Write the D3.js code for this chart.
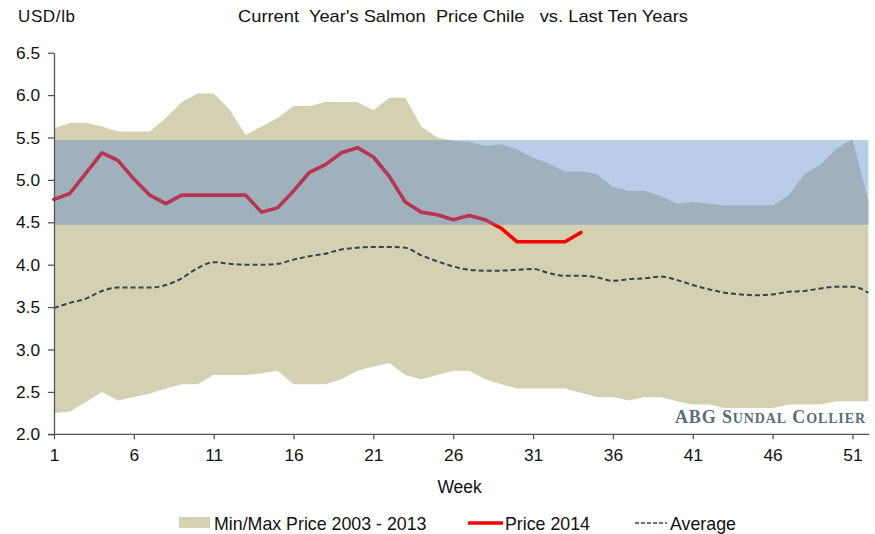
<!DOCTYPE html>
<html>
<head>
<meta charset="utf-8">
<script src="https://cdn.jsdelivr.net/npm/d3@7"></script>
<style>
    body { margin: 0; background: #fff; }
    svg { font-family: "Liberation Sans", Arial, sans-serif; }
    .axis path, .axis line { stroke: #555; stroke-width: 1.3; }
    .axis text { font-size: 17.3px; fill: #111; }
</style>
</head>
<body>
<div id="chart"></div>
<script>

// weeks 1..52
const weeks = d3.range(1, 53);

const maxPrice = [5.61, 5.67, 5.67, 5.63, 5.57, 5.57, 5.57, 5.73, 5.92, 6.02,
    6.02, 5.83, 5.53, 5.63, 5.73, 5.87, 5.87, 5.92, 5.92, 5.92,
    5.82, 5.97, 5.97, 5.63, 5.50, 5.46, 5.45, 5.40, 5.42, 5.36,
    5.26, 5.19, 5.10, 5.10, 5.07, 4.92, 4.87, 4.87, 4.81, 4.72,
    4.74, 4.72, 4.70, 4.70, 4.70, 4.70, 4.82, 5.07, 5.18, 5.37,
    5.48, 4.76];

const minPrice = [2.25, 2.27, 2.38, 2.50, 2.40, 2.44, 2.48, 2.54, 2.59, 2.59,
    2.70, 2.70, 2.70, 2.72, 2.75, 2.59, 2.59, 2.59, 2.65, 2.75,
    2.80, 2.84, 2.70, 2.65, 2.70, 2.75, 2.75, 2.65, 2.59, 2.54,
    2.54, 2.54, 2.54, 2.49, 2.44, 2.44, 2.40, 2.44, 2.44, 2.39,
    2.35, 2.35, 2.31, 2.31, 2.31, 2.31, 2.35, 2.35, 2.35, 2.39,
    2.39, 2.39];

const avgPrice = [3.49, 3.55, 3.60, 3.69, 3.73, 3.73, 3.73, 3.76, 3.84, 3.96,
    4.03, 4.01, 4.00, 4.00, 4.01, 4.06, 4.10, 4.13, 4.18, 4.20,
    4.21, 4.21, 4.20, 4.11, 4.04, 3.98, 3.94, 3.93, 3.93, 3.94,
    3.95, 3.90, 3.87, 3.87, 3.85, 3.81, 3.83, 3.84, 3.86, 3.82,
    3.76, 3.71, 3.67, 3.65, 3.64, 3.65, 3.68, 3.69, 3.72, 3.74,
    3.74, 3.67];

// 2014 price, only weeks 1..34 reported
const price2014 = [4.77, 4.84, 5.08, 5.32, 5.23, 5.01, 4.82, 4.72, 4.82, 4.82,
    4.82, 4.82, 4.82, 4.62, 4.67, 4.87, 5.09, 5.18, 5.32, 5.38,
    5.27, 5.04, 4.74, 4.62, 4.59, 4.53, 4.58, 4.53, 4.43, 4.27,
    4.27, 4.27, 4.27, 4.38];

const bandRange = [4.47, 5.47];
const weekTicks = [1, 6, 11, 16, 21, 26, 31, 36, 41, 46, 51];
const priceTicks = [2.0, 2.5, 3.0, 3.5, 4.0, 4.5, 5.0, 5.5, 6.0, 6.5];

const legendItems = ["Min/Max Price 2003 - 2013", "Price 2014", "Average"];

let width = 875, height = 534;
let margin = {top: 52.7, right: 6.6, bottom: 99.7, left: 54};

let svg = d3.select("#chart").append("svg")
    .attr("width", width)
    .attr("height", height);

let x = d3.scaleLinear()
    .domain([1, 52])
    .range([margin.left, width - margin.right]);

let y = d3.scaleLinear()
    .domain([2, 6.5])
    .range([height - margin.bottom, margin.top]);

// min / max area
let area = d3.area()
    .x((d, i) => x(weeks[i]))
    .y0((d, i) => y(minPrice[i]))
    .y1((d, i) => y(maxPrice[i]));

svg.append("path")
    .attr("d", area(weeks))
    .attr("fill", "#d4d0b2");

// average
let avgLine = d3.line()
    .x((d, i) => x(weeks[i]))
    .y(d => y(d))
    .curve(d3.curveMonotoneX);

svg.append("path")
    .attr("d", avgLine(avgPrice))
    .attr("fill", "none")
    .attr("stroke", "#3d414c")
    .attr("stroke-width", 2)
    .attr("stroke-dasharray", "5,3");

// 2014 price
let priceLine = d3.line()
    .x((d, i) => x(weeks[i]))
    .y(d => y(d));

svg.append("path")
    .attr("d", priceLine(price2014))
    .attr("fill", "none")
    .attr("stroke", "#ff0000")
    .attr("stroke-width", 3.6)
    .attr("stroke-linejoin", "round")
    .attr("stroke-linecap", "round");

// blue band on top
svg.append("rect")
    .attr("x", x(1))
    .attr("width", x(52) - x(1))
    .attr("y", y(bandRange[1]))
    .attr("height", y(bandRange[0]) - y(bandRange[1]))
    .attr("fill", "rgb(80,130,202)")
    .attr("fill-opacity", 0.4);

// axes
let xAxis = d3.axisBottom(x)
    .tickValues(weekTicks)
    .tickSize(5)
    .tickSizeOuter(0)
    .tickPadding(9)
    .tickFormat(d3.format("d"));

let yAxis = d3.axisLeft(y)
    .tickValues(priceTicks)
    .tickSize(6)
    .tickSizeOuter(0)
    .tickPadding(8)
    .tickFormat(d3.format(".1f"));

svg.append("g")
    .attr("class", "axis x-axis")
    .attr("transform", "translate(0," + y(2) + ")")
    .call(xAxis)
    .call(g => g.select(".domain").attr("d", `M${margin.left - 6},0H${width - margin.right + 1}`));

svg.append("g")
    .attr("class", "axis y-axis")
    .attr("transform", "translate(" + margin.left + ",0)")
    .call(yAxis);

svg.selectAll(".axis").attr("font-size", null).attr("font-family", null);

// titles
svg.append("text")
    .attr("x", 18)
    .attr("y", 22)
    .style("font-size", "17px")
    .attr("fill", "#111")
    .attr("textLength", 57)
    .text("USD/lb");

svg.append("text")
    .attr("x", 238)
    .attr("y", 22)
    .style("font-size", "17px")
    .style("white-space", "pre")
    .attr("fill", "#111")
    .attr("textLength", 450)
    .attr("lengthAdjust", "spacingAndGlyphs")
    .text("Current  Year's Salmon  Price Chile   vs. Last Ten Years");

svg.append("text")
    .attr("x", x(26.4))
    .attr("y", 493)
    .attr("text-anchor", "middle")
    .style("font-size", "17.5px")
    .attr("fill", "#111")
    .text("Week");

// watermark, small caps done by hand
let mark = svg.append("text")
    .attr("x", 675)
    .attr("y", 423)
    .style("font-family", "'Liberation Serif', serif")
    .style("font-weight", "bold")
    .style("font-size", "18px")
    .style("white-space", "pre")
    .attr("fill", "#5c6b79")
    .attr("textLength", 190)
    .attr("lengthAdjust", "spacing");

[["ABG S", 18], ["UNDAL", 14], [" C", 18], ["OLLIER", 14]].forEach(p => {
    mark.append("tspan").style("font-size", p[1] + "px").text(p[0]);
});

// legend
let legend = svg.append("g")
    .attr("class", "legend")
    .style("font-size", "17.8px")
    .attr("fill", "#111");

legend.append("rect")
    .attr("x", 179).attr("y", 517)
    .attr("width", 31).attr("height", 11)
    .attr("fill", "#d4d0b2");
legend.append("text")
    .attr("x", 214).attr("y", 529.5)
    .text(legendItems[0]);

legend.append("line")
    .attr("x1", 468).attr("x2", 503)
    .attr("y1", 523).attr("y2", 523)
    .attr("stroke", "#ff0000")
    .attr("stroke-width", 3.6);
legend.append("text")
    .attr("x", 505).attr("y", 529.5)
    .text(legendItems[1]);

legend.append("line")
    .attr("x1", 635).attr("x2", 667)
    .attr("y1", 523).attr("y2", 523)
    .attr("stroke", "#3d414c")
    .attr("stroke-width", 1.5)
    .attr("stroke-dasharray", "4,2");
legend.append("text")
    .attr("x", 670).attr("y", 529.5)
    .text(legendItems[2]);

</script>
</body>
</html>
